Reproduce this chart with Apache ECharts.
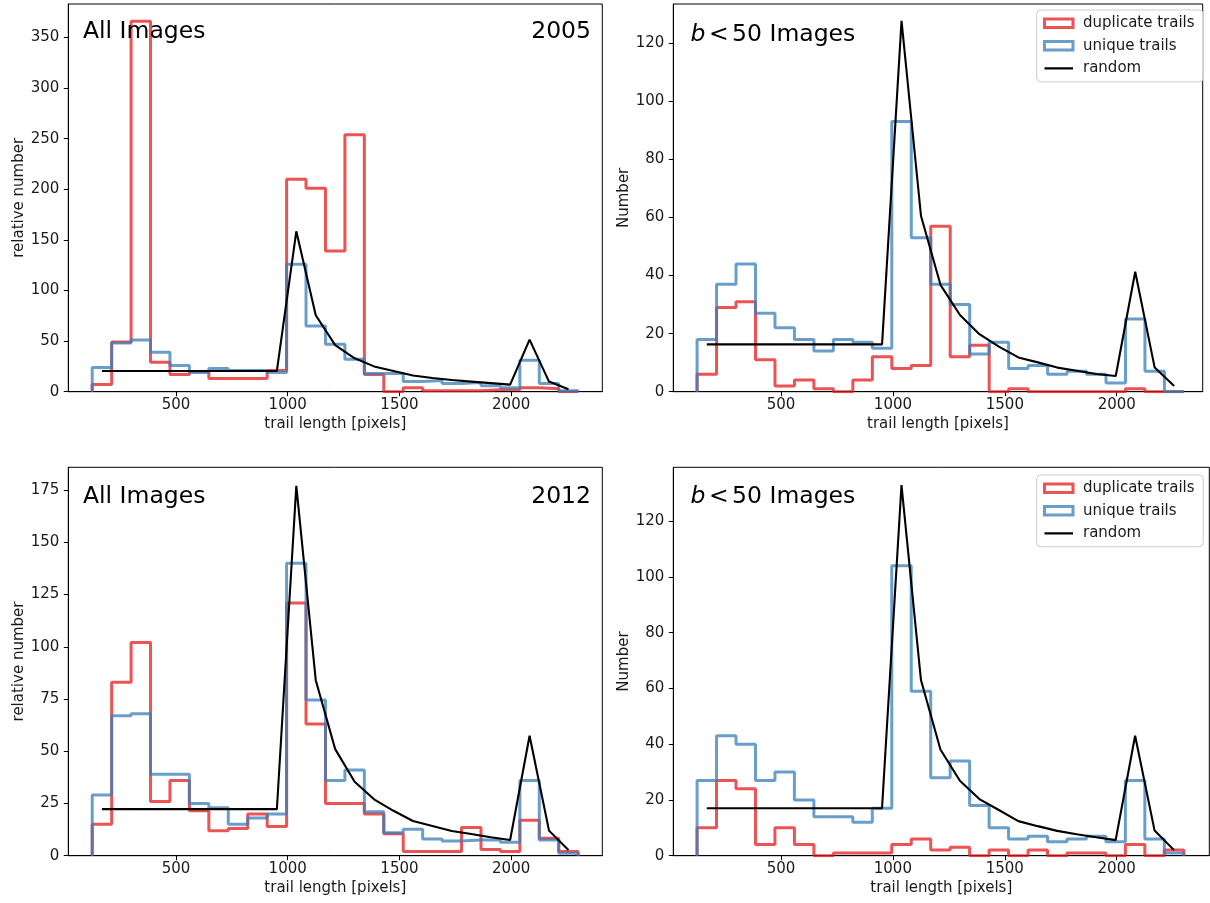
<!DOCTYPE html>
<html>
<head>
<meta charset="utf-8">
<script src="https://cdn.jsdelivr.net/npm/echarts@6/dist/echarts.min.js"></script>
<style>
html,body{margin:0;padding:0;background:#fff;}
#chart{width:1210px;height:903px;}
</style>
</head>
<body>
<div id="chart"></div>
<script>
// ---------------- DATA ----------------
const EDGES = [125, 212, 299, 386, 473, 560, 647, 734, 821, 908, 995, 1082, 1169, 1256, 1343, 1430, 1517, 1604, 1691, 1778, 1865, 1952, 2039, 2126, 2213, 2300];
const CENTERS = [168.5, 255.5, 342.5, 429.5, 516.5, 603.5, 690.5, 777.5, 864.5, 951.5, 1038.5, 1125.5, 1212.5, 1299.5, 1386.5, 1473.5, 1560.5, 1647.5, 1734.5, 1821.5, 1908.5, 1995.5, 2082.5, 2169.5, 2256.5];

const X_TICKS = [500, 1000, 1500, 2000];
const Y_TICKS_2005_ALL = [0, 50, 100, 150, 200, 250, 300, 350];
const Y_TICKS_2005_B50 = [0, 20, 40, 60, 80, 100, 120];
const Y_TICKS_2012_ALL = [0, 25, 50, 75, 100, 125, 150, 175];
const Y_TICKS_2012_B50 = [0, 20, 40, 60, 80, 100, 120];

// 2005, all images (relative number)
const DUP_2005_ALL = [7, 49, 366, 29, 17, 20, 13, 13, 13, 21, 210, 201, 139, 254, 17, 0, 4, 1, 1, 1, 2, 2, 4, 3, 0];
const UNI_2005_ALL = [24, 48, 51, 39, 26, 19, 23, 21, 21, 19, 126, 65, 47, 32, 18, 18, 10, 11, 8, 9, 6, 4, 31, 8, 1];
const RND_2005_ALL = [20.5, 20.5, 20.5, 20.5, 20.5, 20.5, 20.5, 20.5, 20.5, 20.5, 158.5, 75.5, 46, 33, 25, 20.5, 16, 13.5, 11.5, 10, 8.5, 7, 51.5, 10, 2.5];

// 2005, b < 50 images (number)
const DUP_2005_B50 = [6, 29, 31, 11, 2, 4, 1, 0, 4, 12, 8, 9, 57, 12, 16, 0, 1, 0, 0, 0, 0, 0, 1, 0, 0];
const UNI_2005_B50 = [18, 37, 44, 27, 22, 18, 14, 18, 17, 15, 93, 53, 37, 30, 13, 17, 8, 9, 6, 7, 6, 3, 25, 7, 0];
const RND_2005_B50 = [16.3, 16.3, 16.3, 16.3, 16.3, 16.3, 16.3, 16.3, 16.3, 16.3, 127.7, 60.5, 36.8, 26.4, 19.8, 15.5, 11.8, 10.1, 8.3, 7.2, 6.1, 5.4, 41.3, 8.3, 2];

// 2012, all images (relative number)
const DUP_2012_ALL = [15, 83, 102, 26, 36, 21.5, 12, 13, 20, 14, 121, 63, 25, 25, 20, 10.5, 2, 2, 2, 13.5, 3, 2, 17, 8.3, 2];
const UNI_2012_ALL = [29, 67, 68, 39, 39, 25, 23, 15, 18, 20, 140, 74.5, 36, 41, 21, 11, 12.6, 8, 7, 7.5, 7.5, 6.4, 36, 7.5, 1.2];
const RND_2012_ALL = [22.3, 22.3, 22.3, 22.3, 22.3, 22.3, 22.3, 22.3, 22.3, 22.3, 177, 84, 51, 35.4, 27, 21.5, 16.6, 14.2, 11.8, 10.4, 8.8, 7.5, 57.4, 12, 2.7];

// 2012, b < 50 images (number)
const DUP_2012_B50 = [10, 27, 24, 4, 10, 4, 0, 1, 1, 1, 4, 6, 2, 3, 0, 2, 0, 2, 0, 1, 1, 0, 4, 0, 2];
const UNI_2012_B50 = [27, 43, 40, 27, 30, 20, 14, 14, 12, 17, 104, 59, 28, 34, 18, 10, 6, 7, 5, 6, 7, 5, 27, 6, 1];
const RND_2012_B50 = [17, 17, 17, 17, 17, 17, 17, 17, 17, 17, 132.9, 63, 38.1, 26.9, 20.3, 16.4, 12.4, 10.6, 8.9, 7.7, 6.6, 5.6, 43, 9, 2];

const SERIES_NAMES = ['duplicate trails', 'unique trails', 'random'];
const X_NAME = 'trail length [pixels]';

// ---------------- STYLE / LAYOUT ----------------
const FONT = 'DejaVu Sans';
const RED = 'rgba(228,26,28,0.75)';
const BLUE = 'rgba(55,126,184,0.75)';
const TXT = '#1a1a1a';
const FS = 15;
const HIST_W = 3;

const panels = [
  {grid: {left: 68.3, top: 4, width: 534, height: 387.7}, xr: [18, 2408], ymax: 383.1, yTicks: Y_TICKS_2005_ALL, yName: 'relative number', yGap: 40,
   dup: DUP_2005_ALL, uni: UNI_2005_ALL, rnd: RND_2005_ALL},
  {grid: {left: 673.3, top: 4, width: 529.4, height: 387.7}, xr: [18.8, 2384], ymax: 133.5, yTicks: Y_TICKS_2005_B50, yName: 'Number', yGap: 38,
   dup: DUP_2005_B50, uni: UNI_2005_B50, rnd: RND_2005_B50},
  {grid: {left: 68.3, top: 467.3, width: 534, height: 388.4}, xr: [18, 2408], ymax: 185.9, yTicks: Y_TICKS_2012_ALL, yName: 'relative number', yGap: 40,
   dup: DUP_2012_ALL, uni: UNI_2012_ALL, rnd: RND_2012_ALL},
  {grid: {left: 673.3, top: 467.3, width: 536, height: 388.4}, xr: [18.8, 2414], ymax: 139.3, yTicks: Y_TICKS_2012_B50, yName: 'Number', yGap: 38,
   dup: DUP_2012_B50, uni: UNI_2012_B50, rnd: RND_2012_B50}
];

function histPoints(counts) {
  const pts = [[EDGES[0], 0]];
  counts.forEach((c, i) => pts.push([EDGES[i], c]));
  pts.push([EDGES[EDGES.length - 1], 0]);
  return pts;
}
function linePoints(vals) {
  return vals.map((v, i) => [CENTERS[i], v]);
}
const plainNum = v => String(v);

const grids = [], xAxes = [], yAxes = [], series = [];
panels.forEach((p, k) => {
  grids.push(Object.assign({show: true, borderColor: '#000', borderWidth: 1, backgroundColor: 'transparent', containLabel: false, outerBoundsMode: 'none'}, p.grid));
  xAxes.push({
    type: 'value', gridIndex: k, min: p.xr[0], max: p.xr[1],
    axisLine: {show: true, onZero: false, lineStyle: {color: '#000', width: 1}},
    axisTick: {show: true, customValues: X_TICKS, length: 4.5, lineStyle: {color: '#000', width: 1}},
    axisLabel: {customValues: X_TICKS, formatter: plainNum, margin: 6, fontSize: FS, color: TXT, fontFamily: FONT},
    splitLine: {show: false},
    name: X_NAME, nameLocation: 'middle', nameGap: 24.5,
    nameTextStyle: {fontSize: FS, color: TXT, fontFamily: FONT}
  });
  yAxes.push({
    type: 'value', gridIndex: k, min: 0, max: p.ymax,
    axisLine: {show: true, lineStyle: {color: '#000', width: 1}},
    axisTick: {show: true, customValues: p.yTicks, length: 4.5, lineStyle: {color: '#000', width: 1}},
    axisLabel: {customValues: p.yTicks, formatter: plainNum, margin: 9, fontSize: FS, color: TXT, fontFamily: FONT},
    splitLine: {show: false},
    name: p.yName, nameLocation: 'middle', nameGap: p.yGap,
    nameTextStyle: {fontSize: FS, color: TXT, fontFamily: FONT}
  });
  series.push({
    type: 'line', name: SERIES_NAMES[0], xAxisIndex: k, yAxisIndex: k, step: 'end',
    data: histPoints(p.dup), symbol: 'none', showSymbol: false,
    lineStyle: {color: RED, width: HIST_W}, itemStyle: {color: RED}, z: 2
  });
  series.push({
    type: 'line', name: SERIES_NAMES[1], xAxisIndex: k, yAxisIndex: k, step: 'end',
    data: histPoints(p.uni), symbol: 'none', showSymbol: false,
    lineStyle: {color: BLUE, width: HIST_W}, itemStyle: {color: BLUE}, z: 3
  });
  series.push({
    type: 'line', name: SERIES_NAMES[2], xAxisIndex: k, yAxisIndex: k,
    data: linePoints(p.rnd), symbol: 'none', showSymbol: false,
    lineStyle: {color: '#000', width: 2.1}, itemStyle: {color: '#000'}, z: 4
  });
});

const titleStyle = {fontSize: 23.5, fontWeight: 'normal', color: '#000', fontFamily: FONT};
const richTitle = {
  fontSize: 23.5, fontWeight: 'normal', color: '#000', fontFamily: FONT,
  rich: {
    i: {fontStyle: 'italic', fontSize: 23.5, color: '#000', fontFamily: FONT},
    m: {fontSize: 23.5, color: '#000', fontFamily: FONT, padding: [0, 3.5, 0, 3.5]},
    n: {fontSize: 23.5, color: '#000', fontFamily: FONT}
  }
};
const titles = [
  {text: 'All Images', left: 83, top: 20, padding: 0, textStyle: titleStyle},
  {text: '2005', right: 619, top: 20, padding: 0, textStyle: titleStyle},
  {text: '{i|b}{m|<}{n|50 Images}', left: 690.5, top: 22.8, padding: 0, textStyle: richTitle},
  {text: 'All Images', left: 83, top: 484.5, padding: 0, textStyle: titleStyle},
  {text: '2012', right: 619, top: 484.5, padding: 0, textStyle: titleStyle},
  {text: '{i|b}{m|<}{n|50 Images}', left: 690.5, top: 485.3, padding: 0, textStyle: richTitle}
];

const LINE_ICON = 'path://M0,0 L0.01,0 M0,3.15 L28.5,3.15 L28.5,5.35 L0,5.35 Z M28.5,8.5 L28.49,8.5';
function legendAt(left, top) {
  return {
    orient: 'vertical', left: left, top: top,
    itemWidth: 28.5, itemHeight: 8.5, itemGap: 7.5,
    padding: [5.8, 8.6, 6, 6.3],
    backgroundColor: 'rgba(255,255,255,0.8)', borderColor: '#cccccc', borderWidth: 1, borderRadius: 4,
    textStyle: {fontSize: 15, lineHeight: 15, color: TXT, fontFamily: FONT, padding: [0, 0, 0, 5]},
    selectedMode: false,
    data: [
      {name: SERIES_NAMES[0], icon: 'rect', itemStyle: {color: 'rgba(255,255,255,0)', borderColor: RED, borderWidth: HIST_W}},
      {name: SERIES_NAMES[1], icon: 'rect', itemStyle: {color: 'rgba(255,255,255,0)', borderColor: BLUE, borderWidth: HIST_W}},
      {name: SERIES_NAMES[2], icon: LINE_ICON, itemStyle: {color: '#000', borderWidth: 0}}
    ]
  };
}

const chart = echarts.init(document.getElementById('chart'), null, {renderer: 'canvas'});
chart.setOption({
  animation: false,
  backgroundColor: '#fff',
  title: titles,
  legend: [legendAt(1036.7, 10), legendAt(1036.7, 475)],
  grid: grids,
  xAxis: xAxes,
  yAxis: yAxes,
  series: series
});
</script>
</body>
</html>
